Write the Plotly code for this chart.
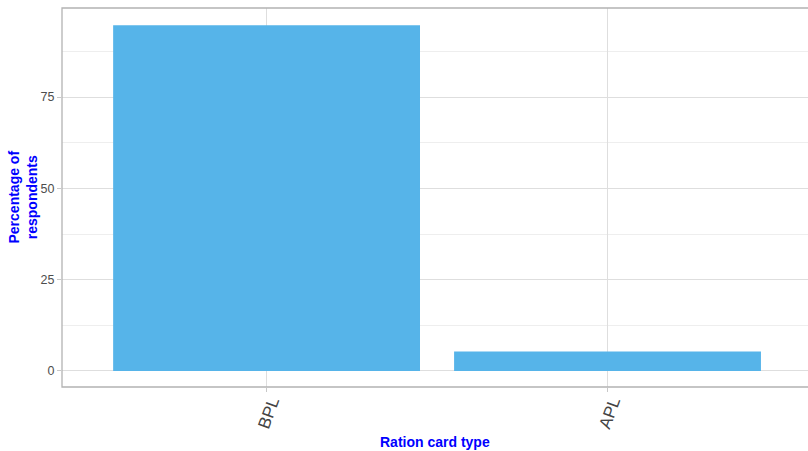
import plotly.graph_objects as go

categories = ["BPL", "APL"]
percentages = [94.7, 5.3]
y_ticks = [0, 25, 50, 75]

fig = go.Figure()
fig.add_trace(go.Bar(
    x=categories, y=percentages, marker=dict(color="#56B4E9", line=dict(width=0)),
    width=0.9, hoverinfo="skip",
))

fig.update_layout(
    width=808, height=451,
    margin=dict(l=62, r=0, t=8, b=64, autoexpand=False),
    plot_bgcolor="white", paper_bgcolor="white",
    font=dict(family="Liberation Sans, Arial, sans-serif"),
    showlegend=False,
    bargap=0.1,
    xaxis=dict(
        type="category", range=[-0.6, 1.588],
        showgrid=True, gridcolor="#dedede", gridwidth=1,
        ticks="outside", ticklen=4, tickcolor="#c8c8c8",
        tickangle=-70,
        tickfont=dict(size=17, color="#444444"),
        ticklabelshift=5, ticklabelstandoff=-7,
        automargin=False,
        zeroline=False, showline=False,
    ),
    yaxis=dict(
        range=[-4.4, 99.4],
        tickvals=y_ticks,
        showgrid=True, gridcolor="#dedede", gridwidth=1,
        minor=dict(tickvals=[12.5, 37.5, 62.5, 87.5], showgrid=True, gridcolor="#eeeeee", ticks=""),
        ticks="outside", ticklen=4, tickcolor="#c8c8c8",
        tickfont=dict(size=12.5, color="#4d4d4d"),
        automargin=False,
        zeroline=False, showline=False,
    ),
    annotations=[
        dict(text="<b>Ration card type</b>", xref="paper", yref="paper", x=0.5, y=0,
             xanchor="center", yanchor="middle", yshift=-55, showarrow=False,
             font=dict(size=14, color="#0000FF")),
        dict(text="<b>Percentage of<br>respondents</b>", xref="paper", yref="paper", x=0, y=0.5,
             xanchor="center", yanchor="middle", xshift=-40, textangle=-90, showarrow=False,
             font=dict(size=14, color="#0000FF")),
    ],
    shapes=[dict(type="rect", xref="paper", yref="paper", x0=0, x1=1.02, y0=0, y1=1,
                 line=dict(color="#b3b3b3", width=1.3), layer="above")],
)

fig.write_html("out.html", config={"displayModeBar": False},
               post_script="document.body.style.margin='0px';document.body.style.overflow='hidden';")
